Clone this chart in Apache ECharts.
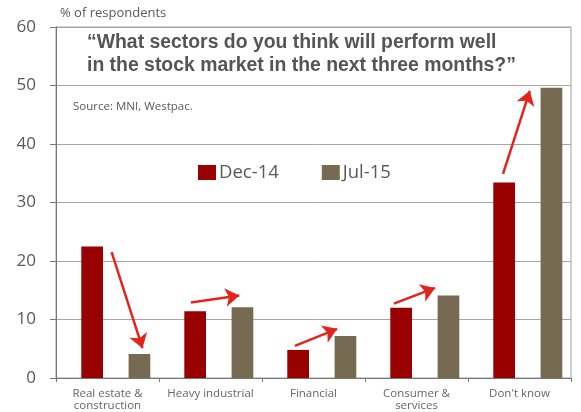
<!DOCTYPE html>
<html>
<head>
<meta charset="utf-8">
<script src="https://cdn.jsdelivr.net/npm/echarts@6/dist/echarts.min.js"></script>
<style>
  html, body { margin: 0; padding: 0; background: #fff; }
  #chart { width: 581px; height: 412px; }
</style>
</head>
<body>
<div id="chart"></div>
<script>
// Survey: sectors expected to perform well in the stock market
const categories = ['Real estate &\nconstruction', 'Heavy industrial', 'Financial', 'Consumer &\nservices', "Don't know"];
const dec14 = [22.5, 11.4, 4.8, 12.0, 33.4];
const jul15 = [4.1, 12.1, 7.2, 14.1, 49.6];
const yTicks = { min: 0, max: 60, interval: 10 };

// Change arrows, in category-position units (0..5) and % of respondents
const arrows = [
  [[0.54, 21.5], [0.84, 5.1]],
  [[1.31, 12.9], [1.78, 14.1]],
  [[2.32, 5.5], [2.73, 8.4]],
  [[3.28, 12.7], [3.68, 15.4]],
  [[4.34, 34.9], [4.60, 49.1]]
];

const grey = '#595959';
const chart = echarts.init(document.getElementById('chart'), null, { renderer: 'canvas' });

const plot = { top: 27, height: 351, width: 515 };

chart.setOption({
  animation: false,
  backgroundColor: '#fff',
  grid: [
    Object.assign({ left: 56, show: true, borderColor: '#a0a0a0', borderWidth: 1 }, plot),
    Object.assign({ left: 64.3 }, plot)
  ],
  legend: {
    left: 198, top: 163, padding: 0,
    itemWidth: 18, itemHeight: 15, itemGap: 43,
    icon: 'rect',
    textStyle: { fontFamily: 'Open Sans', fontSize: 18.5, color: grey, padding: [0, 0, 0, -2] },
    data: ['Dec-14', 'Jul-15']
  },
  xAxis: [
    {
      type: 'category', gridIndex: 0, data: categories,
      axisLine: { lineStyle: { color: '#777', width: 1 } },
      axisTick: { show: true, length: 4, lineStyle: { color: '#777' } },
      axisLabel: { fontFamily: 'Open Sans', fontSize: 11.5, color: '#666', margin: 9, lineHeight: 12.5, interval: 0 }
    },
    { type: 'category', gridIndex: 1, data: categories, show: false },
    { type: 'value', gridIndex: 0, min: 0, max: 5, show: false }
  ],
  yAxis: [
    {
      type: 'value', gridIndex: 0,
      min: yTicks.min, max: yTicks.max, interval: yTicks.interval,
      axisLine: { show: true, lineStyle: { color: '#777' } },
      axisTick: { show: true, length: 6, lineStyle: { color: '#777' } },
      splitLine: { lineStyle: { color: '#a6a6a6' } },
      axisLabel: { fontFamily: 'Open Sans', fontSize: 17, color: grey, margin: 20 }
    },
    { type: 'value', gridIndex: 1, min: yTicks.min, max: yTicks.max, show: false }
  ],
  series: [
    {
      name: 'Dec-14', type: 'bar', xAxisIndex: 1, yAxisIndex: 1,
      data: dec14, barWidth: 21.7, barGap: '118%',
      itemStyle: { color: '#990000' }
    },
    {
      name: 'Jul-15', type: 'bar', xAxisIndex: 1, yAxisIndex: 1,
      data: jul15, barWidth: 21.7, barGap: '118%',
      itemStyle: { color: '#766a52' }
    },
    {
      type: 'lines', coordinateSystem: 'cartesian2d', xAxisIndex: 2, yAxisIndex: 0,
      data: arrows.map(c => ({ coords: c })),
      symbol: ['none', 'arrow'], symbolSize: [0, 14],
      lineStyle: { color: '#e3241c', width: 2.5, opacity: 1, curveness: 0 },
      silent: true, z: 5
    }
  ],
  graphic: [
    {
      type: 'text', left: 60, top: 7,
      style: { text: '% of respondents', font: '13px "Open Sans"', fill: grey }
    },
    {
      type: 'text', left: 87, top: 31.5,
      style: {
        text: '\u201CWhat sectors do you think will perform well\nin the stock market in the next three months?\u201D',
        font: 'bold 19.4px "Liberation Sans", Arial, sans-serif', fill: '#555', lineHeight: 23
      }
    },
    {
      type: 'text', left: 73, top: 101,
      style: { text: 'Source: MNI, Westpac.', font: '11.5px "Open Sans"', fill: grey }
    }
  ]
});
</script>
</body>
</html>
